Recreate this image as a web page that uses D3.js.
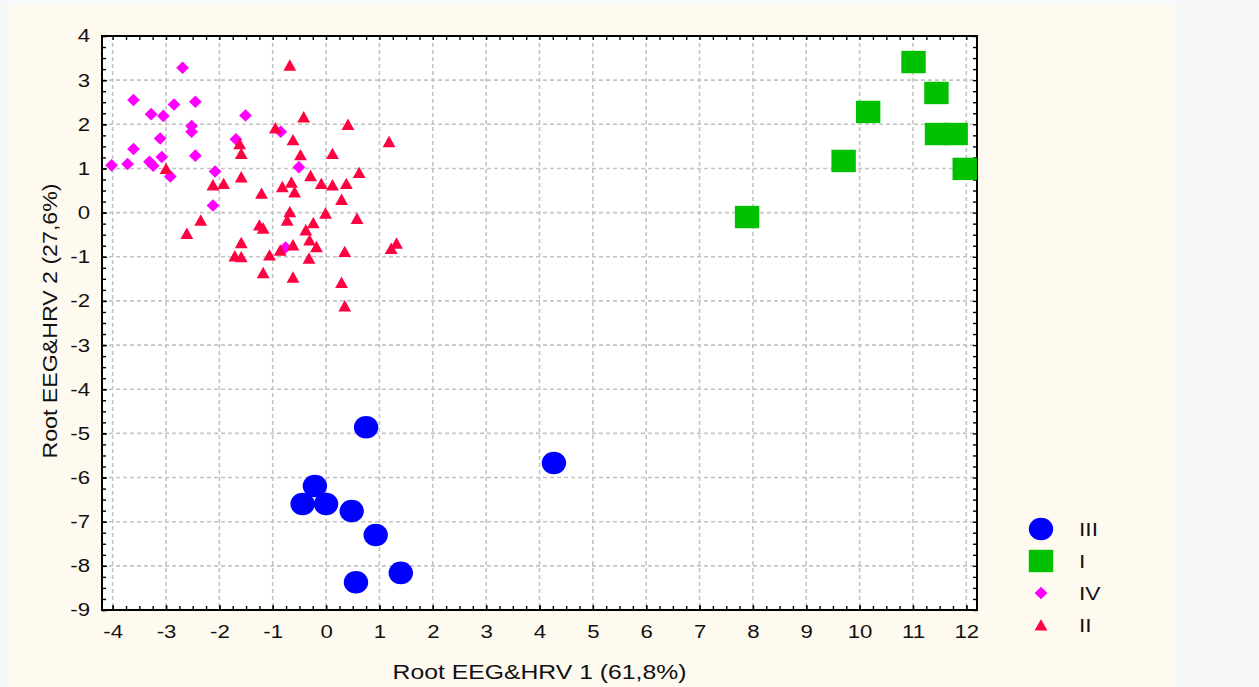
<!DOCTYPE html>
<html>
<head>
<meta charset="utf-8">
<script src="https://cdn.jsdelivr.net/npm/d3@7"></script>
<style>
  html, body { margin: 0; padding: 0; background: #f7f8fa; }
  svg { display: block; font-family: "Liberation Sans", Arial, sans-serif; }
</style>
</head>
<body>
<svg id="chart" width="1259" height="687"></svg>
<script>
// group III (blue circles)
const groupIII = [
  [0.75, -4.86], [4.27, -5.67], [-0.21, -6.19], [-0.44, -6.60], [0.0, -6.60],
  [0.48, -6.76], [0.93, -7.30], [1.40, -8.16], [0.56, -8.37]
];
// group I (green squares)
const groupI = [
  [7.89, -0.10], [9.70, 1.17], [10.16, 2.28], [11.01, 3.41],
  [11.44, 2.71], [11.45, 1.78], [11.80, 1.78], [11.97, 0.99]
];
// group IV (magenta diamonds)
const groupIV = [
  [-2.69, 3.28], [-3.61, 2.55], [-2.45, 2.51], [-2.85, 2.45], [-3.28, 2.23],
  [-3.05, 2.19], [-1.51, 2.20], [-2.52, 1.96], [-2.52, 1.83], [-3.11, 1.68],
  [-1.69, 1.66], [-3.61, 1.44], [-2.45, 1.29], [-3.08, 1.26], [-4.02, 1.07],
  [-3.72, 1.10], [-3.31, 1.15], [-3.24, 1.06], [-2.08, 0.93], [-2.92, 0.82],
  [-0.85, 1.83], [-0.51, 1.03], [-2.12, 0.16], [-0.76, -0.79]
];
// group II (red triangles)
const groupII = [
  [-3.00, 1.00], [-1.62, 1.56], [-1.59, 1.34], [-1.59, 0.81], [-0.95, 1.92],
  [-2.12, 0.63], [-1.92, 0.66], [-1.21, 0.44], [-2.35, -0.17], [-2.61, -0.47],
  [-1.25, -0.28], [-1.18, -0.35], [-1.59, -0.68], [-1.71, -0.98], [-1.59, -1.00],
  [-1.06, -0.96], [-0.68, 3.34], [-0.42, 2.17], [0.41, 2.00], [-0.62, 1.65],
  [1.18, 1.61], [-0.48, 1.31], [0.12, 1.34], [-0.29, 0.84], [0.62, 0.91],
  [-0.65, 0.69], [-0.82, 0.59], [-0.09, 0.66], [0.12, 0.63], [0.38, 0.66],
  [-0.59, 0.47], [0.29, 0.30], [-0.68, 0.02], [-0.01, -0.01], [-0.73, -0.17],
  [0.58, -0.13], [-0.24, -0.23], [-0.38, -0.39], [-0.31, -0.62], [-0.18, -0.77],
  [-0.62, -0.73], [-0.86, -0.85], [-0.32, -1.03], [0.35, -0.88], [1.32, -0.69],
  [1.22, -0.81], [-1.18, -1.36], [-0.62, -1.46], [0.29, -1.58], [0.35, -2.11]
];

const xTicks = d3.range(-4, 13);
const yTicks = d3.range(-9, 5);
const xMinor = d3.range(-16, 49).map(i => i / 4);
const yMinor = d3.range(-36, 17).map(i => i / 4);
const legendNames = ["III", "I", "IV", "II"];
const xTitle = "Root EEG&HRV 1 (61,8%)";
const yTitle = "Root EEG&HRV 2 (27,6%)";

const svg = d3.select("#chart");
const pLeft = 102, pRight = 977, pTop = 36, pBottom = 610;

const x = d3.scaleLinear().domain([-4.2, 12.2]).range([pLeft, pRight]);
const y = d3.scaleLinear().domain([-9, 4]).range([pBottom, pTop]);
const plain = d => String(d);   // hyphen minus, as in the original

// panel backgrounds
svg.append("rect").attr("x", 8).attr("y", 5).attr("width", 1168).attr("height", 682)
  .attr("fill", "#fffaf0");
svg.append("rect").attr("x", pLeft).attr("y", pTop).attr("width", pRight - pLeft).attr("height", pBottom - pTop)
  .attr("fill", "#ffffff");

// dashed grid
const grid = svg.append("g").attr("stroke", "#c4c4c4").attr("stroke-width", 1.6)
  .attr("stroke-dasharray", "4,3");
grid.selectAll(".gx").data(xTicks).enter().append("line")
  .attr("x1", d => x(d)).attr("x2", d => x(d)).attr("y1", pTop).attr("y2", pBottom);
grid.selectAll(".gy").data(yTicks.filter(d => d > -9 && d < 4)).enter().append("line")
  .attr("x1", pLeft).attr("x2", pRight).attr("y1", d => y(d)).attr("y2", d => y(d));

// minor/major inward ticks on all sides
function tickAxis(axis, tr) {
  const g = svg.append("g").attr("transform", tr).call(axis);
  g.select(".domain").remove();
  g.selectAll("line").attr("stroke", "#000").attr("stroke-width", 1.4);
  g.selectAll("text").remove();
}
tickAxis(d3.axisBottom(x).tickValues(xMinor).tickSize(-4), `translate(0,${pBottom})`);
tickAxis(d3.axisTop(x).tickValues(xMinor).tickSize(-4), `translate(0,${pTop})`);
tickAxis(d3.axisLeft(y).tickValues(yMinor).tickSize(-4), `translate(${pLeft},0)`);
tickAxis(d3.axisRight(y).tickValues(yMinor).tickSize(-4), `translate(${pRight},0)`);

// tick labels
const xAxis = svg.append("g").attr("transform", `translate(0,${pBottom})`)
  .call(d3.axisBottom(x).tickValues(xTicks).tickFormat(plain).tickSize(-5).tickPadding(15));
xAxis.select(".domain").remove();
xAxis.selectAll("line").attr("stroke", "#000").attr("stroke-width", 1.4);
xAxis.selectAll("text").attr("font-size", 18.5).attr("fill", "#111")
  .attr("font-family", "Liberation Sans, Arial, sans-serif")
  .attr("transform", "scale(1.2,1)");

const yAxis = svg.append("g").attr("transform", `translate(${pLeft},0)`)
  .call(d3.axisLeft(y).tickValues(yTicks).tickFormat(plain).tickSize(-5));
yAxis.select(".domain").remove();
yAxis.selectAll("line").attr("stroke", "#000").attr("stroke-width", 1.4);
yAxis.selectAll("text").attr("font-size", 18.5).attr("fill", "#111")
  .attr("font-family", "Liberation Sans, Arial, sans-serif")
  .attr("x", -10).attr("transform", "scale(1.2,1)");

// frame
svg.append("rect").attr("x", pLeft).attr("y", pTop).attr("width", pRight - pLeft).attr("height", pBottom - pTop)
  .attr("fill", "none").attr("stroke", "#000").attr("stroke-width", 2);

// titles
svg.append("text").attr("x", (pLeft + pRight) / 2).attr("y", 679)
  .attr("text-anchor", "middle").attr("font-size", 21).attr("fill", "#111")
  .attr("textLength", 294).attr("lengthAdjust", "spacingAndGlyphs").text(xTitle);
svg.append("text").attr("transform", `translate(57,${(pTop + pBottom) / 2 - 2}) rotate(-90)`)
  .attr("text-anchor", "middle").attr("font-size", 19.5).attr("fill", "#111")
  .attr("textLength", 275).attr("lengthAdjust", "spacingAndGlyphs").text(yTitle);

// marker shapes
const shapes = {
  circle: (g) => g.append("ellipse").attr("rx", 12.2).attr("ry", 11.3).attr("fill", "#0000ff"),
  square: (g) => g.append("rect").attr("x", -12.2).attr("y", -11.2).attr("width", 24.4).attr("height", 22.4).attr("fill", "#00c000"),
  diamond: (g) => g.append("path").attr("d", "M0,-6.3L6.4,0L0,6.3L-6.4,0Z").attr("fill", "#ff00ff"),
  triangle: (g) => g.append("path").attr("d", "M0,-5.8L6.4,5.6L-6.4,5.6Z").attr("fill", "#ff0040")
};

const series = [
  { data: groupIII, shape: "circle" },
  { data: groupI, shape: "square" },
  { data: groupIV, shape: "diamond" },
  { data: groupII, shape: "triangle" }
];

const plot = svg.append("g");
series.forEach(s => {
  plot.selectAll(null).data(s.data).enter().append("g")
    .attr("transform", d => `translate(${x(d[0])},${y(d[1])})`)
    .each(function () { shapes[s.shape](d3.select(this)); });
});

// legend
const legY = d3.scalePoint().domain(legendNames).range([529, 625]);
const legend = svg.append("g");
series.forEach((s, i) => {
  const g = legend.append("g").attr("transform", `translate(1041,${legY(legendNames[i])})`);
  shapes[s.shape](g);
  legend.append("text")
    .attr("transform", `translate(1079,${legY(legendNames[i])}) scale(1.2,1)`)
    .attr("dy", "0.36em").attr("font-size", 19).attr("fill", "#111")
    .text(legendNames[i]);
});
</script>
</body>
</html>
